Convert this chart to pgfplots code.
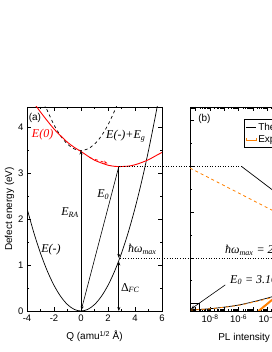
\documentclass[border=0pt]{standalone}
\usepackage{fontspec}
\setmainfont{Liberation Sans}
\newfontfamily\tnr{Liberation Serif}
\usepackage{pgfplots}
\pgfplotsset{compat=1.18}
\usetikzlibrary{arrows.meta}
\definecolor{myorange}{RGB}{255,128,0}
\newcommand\ann{\fontsize{12}{14}\selectfont\tnr\itshape}
\begin{document}
\begin{tikzpicture}
\useasboundingbox (0pt,0pt) rectangle (272pt,352pt);
\begin{pgfinterruptboundingbox}
\clip (0pt,0pt) rectangle (272pt,352pt);
\pgfplotsset{
  myax/.style={
    scale only axis, anchor=south west,
    ymin=0, ymax=4.45,
    axis line style={line width=0.6pt},
    every tick/.style={black, line width=0.5pt},
    major tick length=4pt, minor tick length=2.2pt,
    tick label style={font=\fontsize{9.5}{11}\selectfont},
    label style={font=\fontsize{10}{12}\selectfont},
    /pgf/number format/assume math mode=true,
  }
}
% ---------------- panel (a)
\begin{axis}[myax,
  at={(27pt,41pt)}, width=135pt, height=204pt,
  xmin=-4, xmax=6,
  xtick={-4,-2,0,2,4,6}, minor xtick={-3,-1,1,3,5},
  ytick={0,1,2,3,4}, minor ytick={0.5,1.5,2.5,3.5},
  xlabel={Q (amu\textsuperscript{1/2} Å)},
  ylabel={Defect energy (eV)},
  xlabel style={yshift=-3pt},
  ylabel style={yshift=-3pt},
]
% E(-)
\addplot[black, line width=0.7pt, smooth] coordinates {
(-4,2.24) (-3.5,1.715) (-3,1.26) (-2.5,0.875) (-2,0.56) (-1.5,0.315) (-1,0.14) (-0.5,0.035) (0,0)
(0.5,0.035) (1,0.14) (1.5,0.315) (2,0.56) (2.5,0.875) (3,1.26) (3.5,1.715) (4,2.24) (4.5,2.835) (5,3.5) (5.5,4.235) (5.7,4.55)};
% E(-)+Eg
\addplot[black, line width=0.7pt, dashed, smooth] coordinates {
(-2.75,4.52) (-2.5,4.375) (-2,4.06) (-1.5,3.815) (-1,3.64) (-0.5,3.535) (0,3.5)
(0.5,3.535) (1,3.64) (1.5,3.815) (2,4.06) (2.5,4.375) (2.7,4.52)};
% E(0)
\addplot[red, line width=0.9pt, smooth] coordinates {
(-3.4,4.5) (-3,4.34) (-2.5,4.15) (-2,3.97) (-1.5,3.82) (-1,3.68) (-0.5,3.57) (0,3.48) (0.5,3.38)
(1,3.29) (1.5,3.23) (2,3.18) (2.5,3.155) (2.8,3.15) (3.5,3.16) (4,3.19) (4.5,3.24) (5,3.30) (5.5,3.38) (6,3.46)};
% arrows
\draw[line width=0.6pt, -{Stealth[length=4pt,width=3pt]}] (axis cs:0,0) -- (axis cs:0,3.5);
\draw[line width=0.6pt, -{Stealth[length=4pt,width=3pt]}] (axis cs:2.8,3.15) -- (axis cs:0.02,0.02);
\draw[line width=0.6pt, -{Stealth[length=4pt,width=3pt]}] (axis cs:2.8,3.15) -- (axis cs:2.8,1.16);
\draw[line width=0.6pt, {Stealth[length=4pt,width=3pt]}-{Stealth[length=4pt,width=3pt]}] (axis cs:2.8,1.08) -- (axis cs:2.8,0);
\draw[red, dashed, line width=0.7pt, -{Stealth[length=4pt,width=3pt]}] (axis cs:0.61,3.35) -- (axis cs:1.97,3.22);
% labels
\node[font=\fontsize{10}{12}\selectfont] at (axis cs:-3.41,4.22) {(a)};
\node[red] at (axis cs:-2.84,3.84) {\ann E(0)};
\node[anchor=west, inner sep=0pt] at (axis cs:1.85,3.82) {\ann E(-)+E\textsubscript{g}};
\node at (axis cs:-0.81,2.14) {\ann E\textsubscript{RA}};
\node at (axis cs:1.65,2.54) {\ann E\textsubscript{0}};
\node at (axis cs:-2.22,1.33) {\ann E(-)};
\node[anchor=west, inner sep=0pt] at (axis cs:3.48,1.35) {\ann ħω\textsubscript{max}};
\node[anchor=west, inner sep=0pt] at (axis cs:2.95,0.5) {\fontsize{12}{14}\selectfont\tnr Δ\textsubscript{\itshape FC}};
\coordinate (L1) at (axis cs:2.8,3.15);
\coordinate (L2) at (axis cs:2.9,1.16);
\end{axis}
% ---------------- panel (b)
\begin{axis}[myax,
  at={(190pt,41pt)}, width=134.4pt, height=204pt,
  xmode=log, xmin=4e-10, xmax=1,
  xtick={1e-9,1e-8,1e-7,1e-6,1e-5,1e-4,1e-3,1e-2,1e-1,1},
  xticklabels={{},{10\textsuperscript{-8}},{},{10\textsuperscript{-6}},{},{10\textsuperscript{-4}},{},{10\textsuperscript{-2}},{},{10\textsuperscript{0}}},
  minor xtick={5e-10,6e-10,7e-10,8e-10,9e-10,
    2e-9,3e-9,4e-9,5e-9,6e-9,7e-9,8e-9,9e-9,
    2e-8,3e-8,4e-8,5e-8,6e-8,7e-8,8e-8,9e-8,
    2e-7,3e-7,4e-7,5e-7,6e-7,7e-7,8e-7,9e-7,
    2e-6,3e-6,4e-6,5e-6,6e-6,7e-6,8e-6,9e-6,
    2e-5,3e-5,4e-5,5e-5,6e-5,7e-5,8e-5,9e-5,
    2e-4,3e-4,4e-4,5e-4,6e-4,7e-4,8e-4,9e-4,
    2e-3,3e-3,4e-3,5e-3,6e-3,7e-3,8e-3,9e-3,
    2e-2,3e-2,4e-2,5e-2,6e-2,7e-2,8e-2,9e-2,
    2e-1,3e-1,4e-1,5e-1,6e-1,7e-1,8e-1,9e-1},
  ytick={0.16,1.16,2.16,3.16,4.16}, minor ytick={0.66,1.66,2.66,3.66},
  yticklabels={},
  xlabel={PL intensity (a.u.)},
  xlabel style={yshift=-3pt},
  legend style={at={(rel axis cs:0.40,0.94)}, anchor=north west, draw=black, line width=0.5pt,
    font=\fontsize{10}{12}\selectfont, inner sep=1.5pt, row sep=0pt, cells={anchor=west}},
  legend image code/.code={\draw[#1] plot coordinates {(0pt,0pt) (10pt,0pt)};},
]
\addlegendimage{black, line width=0.8pt}
\addlegendentry{Theory}
\addlegendimage{myorange, line width=0.7pt, mark=|, mark size=1.5pt}
\addlegendentry{Expt.}
% theory (upper)
\addplot[black, line width=0.7pt, forget plot] coordinates {(1.66e-6,3.15) (2.14e-4,2.65) (1e-2,2.25)};
% experiment (upper, dashed)
\addplot[myorange, line width=0.8pt, dashed, forget plot] coordinates {(4e-10,3.118) (2.14e-4,2.2) (1e-2,1.93)};
% lower curves
\addplot[black, line width=0.7pt, smooth, forget plot] coordinates {
(4e-10,0.02) (1e-8,0.05) (1e-7,0.085) (1e-6,0.13) (1e-5,0.2) (1e-4,0.28) (2.14e-4,0.31) (1e-3,0.38) (1e-2,0.5)};
\addplot[myorange, line width=0.8pt, dashed, smooth, forget plot] coordinates {
(4e-10,0.018) (1e-8,0.048) (1e-7,0.082) (1e-6,0.125) (1e-5,0.19) (1e-4,0.265) (2.14e-4,0.295) (1e-3,0.36) (1e-2,0.48)};
\addplot[myorange, line width=2pt, forget plot] coordinates {(2.5e-5,0) (2.14e-4,0.24) (1e-3,0.41)};
% inset box and annotations
\draw[black, line width=0.5pt] (axis cs:4e-10,0) rectangle (axis cs:1.8e-9,0.17);
\draw[line width=0.6pt, -{Stealth[length=4pt,width=3pt]}] (axis cs:1.18e-7,0.57) -- (axis cs:4.7e-10,0.044);
\node[font=\fontsize{10}{12}\selectfont] at (axis cs:4.1e-9,4.18) {(b)};
\coordinate (R1) at (axis cs:1.66e-6,3.15);
\coordinate (R2) at (axis cs:1,1.16);
\end{axis}
\node[anchor=west, inner sep=0pt] at (230pt,72pt) {\ann E\textsubscript{0} = 3.16 eV};
\node[anchor=west, inner sep=0pt] at (225pt,102pt) {\ann ħω\textsubscript{max} = 2.00 eV};
\draw[dotted, line width=0.6pt] (L1) -- (R1);
\draw[dotted, line width=0.6pt] (L2) -- (R2);
\end{pgfinterruptboundingbox}
\end{tikzpicture}
\end{document}
